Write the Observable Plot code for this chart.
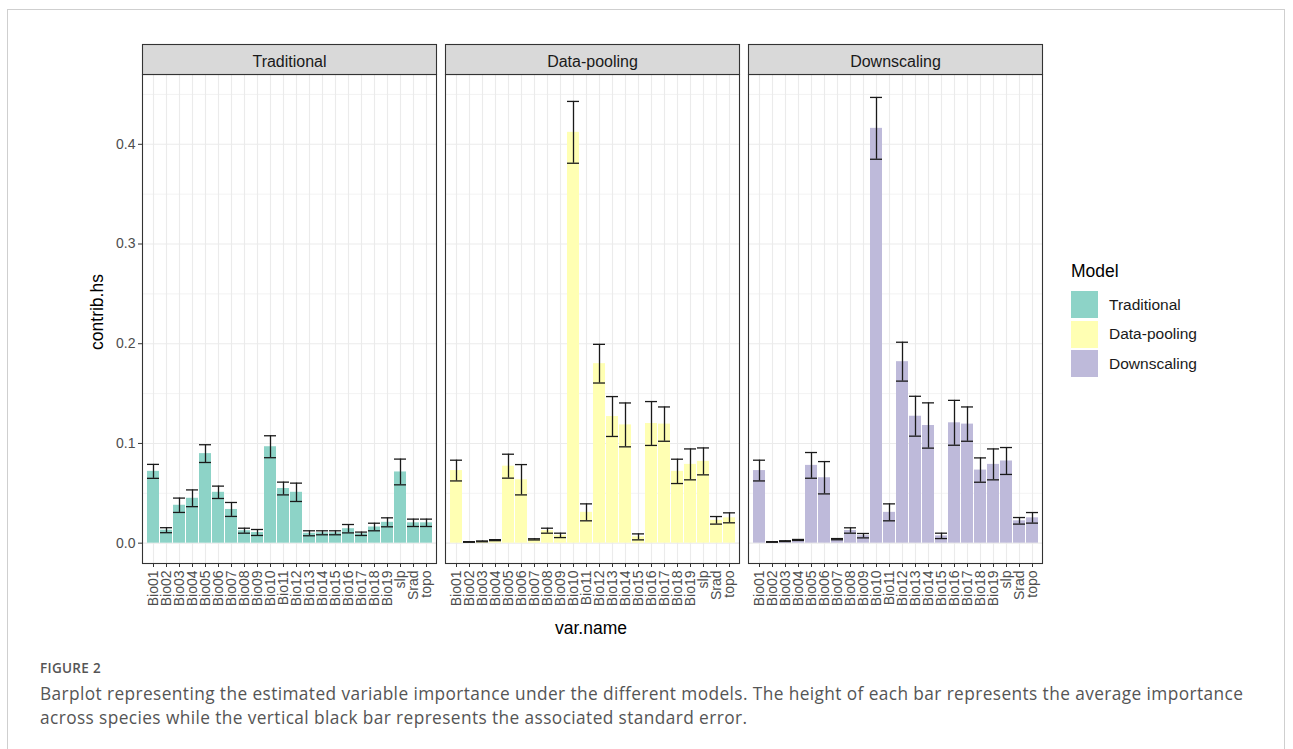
<!DOCTYPE html>
<html>
<head>
<meta charset="utf-8">
<script src="https://cdn.jsdelivr.net/npm/d3@7"></script>
<script src="https://cdn.jsdelivr.net/npm/@observablehq/plot@0.6"></script>
<style>
  html, body { margin: 0; padding: 0; background: #fff; }
  body { width: 1293px; height: 749px; position: relative; overflow: hidden; }
  #frame { position: absolute; left: 7px; top: 9px; width: 1278px; height: 800px; border: 1px solid #cfcfcf; box-sizing: border-box; }
  #chart { position: absolute; left: 0; top: 0; }
  .title { position: absolute; font-family: "Liberation Sans", Arial, sans-serif; color: #000; font-size: 17.5px; white-space: nowrap; }
  #ylab { left: 97px; top: 312px; transform: translate(-50%, -50%) rotate(-90deg); }
  #xlab { left: 591px; top: 628px; transform: translate(-50%, -50%); }
  #legend { position: absolute; left: 1071px; top: 260px; font-family: "Liberation Sans", Arial, sans-serif; }
  #legend .lt { font-size: 17.5px; color: #000; height: 30px; line-height: 22px; }
  #legend .row { display: flex; align-items: center; height: 29.5px; }
  #legend .key { width: 27px; height: 27px; margin-right: 11px; }
  #legend .lab { font-size: 15.5px; color: #1a1a1a; }
  #fig { position: absolute; left: 40px; top: 659px; font-family: "Open Sans", sans-serif; font-size: 13.5px; color: #555; font-weight: 600; letter-spacing: 0.3px; }
  #cap { position: absolute; left: 40px; top: 682px; width: 1225px; font-family: "Open Sans", sans-serif; font-size: 17.3px; letter-spacing: 0.4px; line-height: 24px; color: #555; }
</style>
</head>
<body>
<div id="frame"></div>
<div id="chart"></div>
<div class="title" id="ylab">contrib.hs</div>
<div class="title" id="xlab">var.name</div>
<div id="legend"></div>
<div id="fig">FIGURE 2</div>
<div id="cap">Barplot representing the estimated variable importance under the different models. The height of each bar represents the average importance across species while the vertical black bar represents the associated standard error.</div>
<script>
const vars = ["Bio01","Bio02","Bio03","Bio04","Bio05","Bio06","Bio07","Bio08","Bio09","Bio10","Bio11","Bio12","Bio13","Bio14","Bio15","Bio16","Bio17","Bio18","Bio19","slp","Srad","topo"];
const models = ["Traditional","Data-pooling","Downscaling"];
const modelColors = ["#8DD3C7","#FFFFB3","#BEBADA"];
const yTicks = [0, 0.1, 0.2, 0.3, 0.4];

const tradMean = [0.072,0.013,0.038,0.045,0.0898,0.051,0.0338,0.0125,0.0107,0.0967,0.0548,0.051,0.0099,0.0104,0.0104,0.0145,0.0094,0.0162,0.0209,0.0714,0.0204,0.0204];
const tradSE   = [0.0070,0.0025,0.0072,0.0084,0.0089,0.0062,0.0070,0.0025,0.0030,0.0110,0.0064,0.0092,0.0025,0.0020,0.0020,0.0042,0.0017,0.0038,0.0045,0.0129,0.0037,0.0037];

const poolMean = [0.0728,0.0012,0.0018,0.003,0.0772,0.0636,0.0038,0.0125,0.0078,0.412,0.0309,0.180,0.127,0.1186,0.0063,0.120,0.1194,0.072,0.079,0.082,0.0229,0.0254];
const poolSE   = [0.0104,0.0003,0.0004,0.0005,0.0120,0.0152,0.0006,0.0025,0.0022,0.031,0.0085,0.0194,0.0200,0.0220,0.0030,0.0220,0.0172,0.0122,0.0155,0.0135,0.0038,0.0050];

const downMean = [0.0728,0.0012,0.002,0.0032,0.078,0.0656,0.004,0.0127,0.0075,0.416,0.0309,0.182,0.1273,0.118,0.0073,0.1207,0.1194,0.0733,0.079,0.0824,0.0224,0.0254];
const downSE   = [0.0104,0.0003,0.0004,0.0005,0.0129,0.0162,0.0006,0.0027,0.0022,0.031,0.0085,0.0195,0.0200,0.0227,0.0027,0.0225,0.0172,0.0122,0.0155,0.0135,0.0033,0.0053];

const series = [[tradMean, tradSE],[poolMean, poolSE],[downMean, downSE]];
const table = [];
models.forEach((m, i) => {
  const [mean, se] = series[i];
  vars.forEach((v, j) => table.push({model: m, var: v, mean: mean[j], lo: mean[j] - se[j], hi: mean[j] + se[j]}));
});

const W = 1293, H = 645, mt = 74, mb = 82;
const panelH = H - mt - mb;

const chart = Plot.plot({
  width: W, height: H,
  marginLeft: 141, marginRight: 249.5, marginTop: mt, marginBottom: mb,
  style: {fontFamily: "'Liberation Sans', Arial, sans-serif", background: "transparent"},
  fx: {domain: models, paddingInner: 0.031, paddingOuter: 0, label: null},
  x: {domain: vars, paddingInner: 0.1, paddingOuter: 0.15, label: null},
  y: {domain: [-0.0204, 0.47], label: null},
  color: {domain: models, range: modelColors},
  marks: [
    Plot.gridY([0.05, 0.15, 0.25, 0.35, 0.45], {stroke: "#ebebeb", strokeOpacity: 1, strokeWidth: 0.6}),
    Plot.gridY(yTicks, {stroke: "#ebebeb", strokeOpacity: 1, strokeWidth: 1.1}),
    Plot.gridX({stroke: "#ebebeb", strokeOpacity: 1, strokeWidth: 1.1}),
    Plot.barY(table, {fx: "model", x: "var", y: "mean", fill: "model"}),
    Plot.ruleX(table, {fx: "model", x: "var", y1: "lo", y2: "hi", stroke: "#1a1a1a", strokeWidth: 1.3}),
    Plot.tickY(table, {fx: "model", x: "var", y: "lo", stroke: "#1a1a1a", strokeWidth: 1.3}),
    Plot.tickY(table, {fx: "model", x: "var", y: "hi", stroke: "#1a1a1a", strokeWidth: 1.3}),
    Plot.frame({stroke: "#333", strokeWidth: 1.1}),
    Plot.frame({fill: "#d9d9d9", stroke: "#333", strokeWidth: 1.1, insetTop: -30, insetBottom: panelH}),
    Plot.axisFx({anchor: "top", tickSize: 0, tickPadding: 8, fontSize: 16, fill: "#1a1a1a", label: null}),
    Plot.axisX({anchor: "bottom", tickRotate: -90, tickSize: 4, tickPadding: 3, fontSize: 14, fill: "#4d4d4d", stroke: "#333", label: null}),
    Plot.axisY({anchor: "left", ticks: yTicks, tickFormat: d3.format(".1f"), tickSize: 4, tickPadding: 3, fontSize: 14, fill: "#4d4d4d", stroke: "#333", label: null})
  ]
});
document.getElementById("chart").appendChild(chart);

const legend = document.getElementById("legend");
const lt = document.createElement("div");
lt.className = "lt"; lt.textContent = "Model";
legend.appendChild(lt);
models.forEach((m, i) => {
  const row = document.createElement("div"); row.className = "row";
  const key = document.createElement("div"); key.className = "key"; key.style.background = modelColors[i];
  const lab = document.createElement("div"); lab.className = "lab"; lab.textContent = m;
  row.appendChild(key); row.appendChild(lab);
  legend.appendChild(row);
});
</script>
</body>
</html>
